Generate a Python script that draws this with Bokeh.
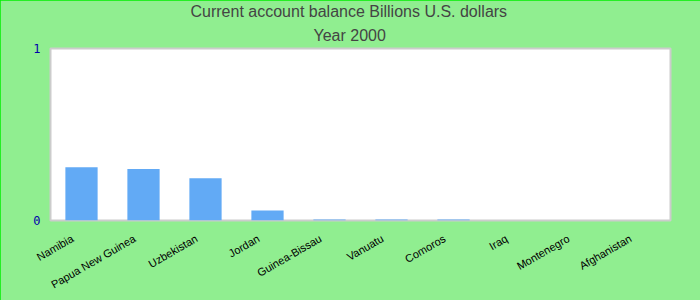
import math
from bokeh.plotting import figure
from bokeh.models import Range1d, FixedTicker, ColumnDataSource, Title, LinearAxis
from bokeh.embed import file_html
from bokeh.resources import INLINE

countries = ["Namibia", "Papua New Guinea", "Uzbekistan", "Jordan", "Guinea-Bissau",
             "Vanuatu", "Comoros", "Iraq", "Montenegro", "Afghanistan"]
balance = [0.31, 0.30, 0.245, 0.058, 0.006, 0.006, 0.006, 0.0, 0.0, 0.0]
y_ticks = [0, 1]
title_text = "Current account balance Billions U.S. dollars"
subtitle_text = "Year 2000"

n = len(countries)
idx = list(range(n))
src = ColumnDataSource(dict(x=idx, name=countries, top=balance))

p = figure(width=700, height=300, output_backend="svg", toolbar_location=None,
           x_range=Range1d(-0.5, n - 0.5), y_range=Range1d(0, 1),
           min_border_left=50, min_border_right=30, min_border_top=48, min_border_bottom=80)

p.vbar(x="x", top="top", width=0.52, source=src, fill_color="#62aaf5", line_color=None)

p.background_fill_color = "white"
p.border_fill_color = "#90ee90"
p.outline_line_color = "#cccccc"
p.outline_line_width = 2
p.styles = {"outline": "1px solid #00ee00", "outline-offset": "-1px"}

sub = Title(text=subtitle_text, align="left", offset=263, text_font="Liberation Sans",
            text_font_size="16px", text_font_style="normal", text_color="#444444",
            standoff=10)
p.add_layout(sub, "above")

p.title.text = title_text
p.title.align = "left"
p.title.offset = 140
p.title.text_font = "Liberation Sans"
p.title.text_font_size = "16px"
p.title.text_font_style = "normal"
p.title.text_color = "#444444"
p.title.standoff = 0

p.xgrid.visible = False
p.ygrid.visible = False

p.yaxis.ticker = FixedTicker(ticks=y_ticks)
p.yaxis.minor_tick_line_color = None
p.yaxis.major_tick_line_color = None
p.yaxis.axis_line_color = None
p.yaxis.major_tick_out = 0
p.yaxis.major_label_standoff = 10
p.yaxis.major_label_text_font = "DejaVu Sans Mono"
p.yaxis.major_label_text_font_size = "12px"
p.yaxis.major_label_text_color = "#0000aa"

p.xaxis.visible = False

# label axis: same slots, shifted a few pixels left like the reference
shift = 9 / 62
p.extra_x_ranges = {"lab": Range1d(start=-0.5 + shift, end=n - 0.5 + shift)}
lab_axis = LinearAxis(x_range_name="lab",
                      ticker=FixedTicker(ticks=idx),
                      major_label_overrides={i: c for i, c in zip(idx, countries)},
                      major_label_orientation=math.pi / 6,
                      major_label_standoff=17,
                      major_tick_line_color=None, minor_tick_line_color=None,
                      axis_line_color=None, major_tick_out=0, minor_tick_out=0,
                      major_label_text_font="Liberation Sans",
                      major_label_text_font_size="11px",
                      major_label_text_color="black")
p.add_layout(lab_axis, "below")

open("out.html", "w").write(file_html(p, INLINE))
